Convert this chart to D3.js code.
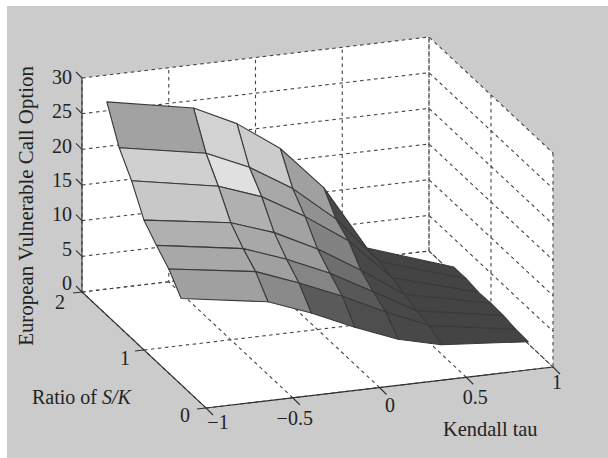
<!DOCTYPE html>
<html>
<head>
<meta charset="utf-8">
<script src="https://cdn.jsdelivr.net/npm/d3@7"></script>
<style>
  html, body { margin: 0; padding: 0; background: #fff; }
  text { font-family: "Liberation Serif", serif; fill: #222; }
</style>
</head>
<body>
<div class="canvas"></div>
<script>
const xGrid = [-1, -0.5, -0.25, 0, 0.25, 0.5, 1]
const yGrid = [0.4, 0.6, 0.8, 1, 1.2, 1.4, 1.6]
const xTicks = [-1, -0.5, 0, 0.5, 1]
const yTicks = [0, 1, 2]
const zTicks = [0, 5, 10, 15, 20, 25, 30]

// option value, one row per y in yGrid, one value per x in xGrid
const option04 = [12.1, 10.2, 7.9, 5.2, 2.8, 1.3, 0.3]
const option06 = [14.6, 12.8, 10.5, 7.9, 5, 2.4, 0.4]
const option08 = [16.3, 14.4, 12.2, 9.5, 6.2, 2.8, 0.7]
const option10 = [18.2, 16.4, 14.3, 11.3, 7.6, 3.5, 0.8]
const option12 = [22.1, 19.9, 17.7, 14.2, 10.1, 4.2, 0.7]
const option14 = [25.1, 22.9, 20.2, 16.5, 11.5, 4.8, 1]
const option16 = [29.9, 27.6, 24.7, 20.5, 14.3, 5.1, 1]
const zRows = [option04, option06, option08, option10, option12, option14, option16]

// gray level of each facet, front row first
const shade0 = [160, 138, 90, 78, 72, 68]
const shade1 = [168, 160, 133, 88, 72, 68]
const shade2 = [176, 168, 156, 110, 72, 68]
const shade3 = [200, 176, 162, 130, 72, 68]
const shade4 = [208, 224, 168, 145, 72, 68]
const shade5 = [162, 210, 204, 160, 72, 68]
const shades = [shade0, shade1, shade2, shade3, shade4, shade5]

const dims = {width: 608, height: 458}

const svg = d3.select('.canvas')
    .append('svg')
    .attr('width', dims.width)
    .attr('height', dims.height)
    .style('display', 'block')

svg.append('rect')
    .attr('x', 7).attr('y', 6)
    .attr('width', dims.width - 7).attr('height', dims.height - 6)
    .attr('fill', '#cbcbcb')

const xScale = d3.scaleLinear().domain([-1, 1]).range([0, 1])
const yScale = d3.scaleLinear().domain([0, 2]).range([0, 1])
const zScale = d3.scaleLinear().domain([0, 30]).range([0, 1])

// oblique view of the box
const project = (x, y, z) => {
    const u = xScale(x), v = yScale(y), w = zScale(z)
    return [
        206 + 347 * u - 124 * v,
        408 - 41 * u - 116 * v - 214 * w
    ]
}

const line = d3.line()
const closed = d3.line().curve(d3.curveLinearClosed)

// white walls and floor
svg.append('path')
    .attr('d', closed([
        project(-1, 2, 30), project(1, 2, 30), project(1, 0, 30),
        project(1, 0, 0), project(-1, 0, 0), project(-1, 2, 0)
    ]))
    .attr('fill', '#fff')

const grid = svg.append('g')
    .attr('fill', 'none')
    .attr('stroke', '#444')
    .attr('stroke-width', 1.1)
    .attr('stroke-dasharray', '3.5,3.5')

xTicks.forEach(x => {
    grid.append('path').attr('d', line([project(x, 0, 0), project(x, 2, 0), project(x, 2, 30)]))
})
yTicks.forEach(y => {
    grid.append('path').attr('d', line([project(-1, y, 0), project(1, y, 0), project(1, y, 30)]))
})
zTicks.forEach(z => {
    grid.append('path').attr('d', line([project(-1, 2, z), project(1, 2, z), project(1, 0, z)]))
})

// facets, far ones first
const facets = []
d3.range(yGrid.length - 1).forEach(j => {
    d3.range(xGrid.length - 1).forEach(i => {
        facets.push({
            i, j,
            gray: shades[j][i],
            points: [
                project(xGrid[i], yGrid[j], zRows[j][i]),
                project(xGrid[i + 1], yGrid[j], zRows[j][i + 1]),
                project(xGrid[i + 1], yGrid[j + 1], zRows[j + 1][i + 1]),
                project(xGrid[i], yGrid[j + 1], zRows[j + 1][i])
            ]
        })
    })
})
facets.sort((a, b) => (b.j - a.j) || (b.i - a.i))

svg.append('g')
    .selectAll('path')
    .data(facets)
    .enter()
    .append('path')
    .attr('d', d => closed(d.points))
    .attr('fill', d => d3.rgb(d.gray, d.gray, d.gray))
    .attr('stroke', '#3a3a3a')
    .attr('stroke-width', 1.1)
    .attr('stroke-linejoin', 'round')

// solid axes
const axes = svg.append('g')
    .attr('fill', 'none')
    .attr('stroke', '#333')
    .attr('stroke-width', 1.1)

axes.append('path').attr('d', line([project(-1, 2, 30), project(-1, 2, 0), project(-1, 0, 0), project(1, 0, 0)]))

zTicks.forEach(z => {
    const p = project(-1, 2, z)
    axes.append('path').attr('d', line([p, [p[0] - 6, p[1] - 6]]))
})
yTicks.forEach(y => {
    const p = project(-1, y, 0)
    axes.append('path').attr('d', line([p, [p[0] - 9, p[1] + 1]]))
})
xTicks.forEach(x => {
    const p = project(x, 0, 0)
    axes.append('path').attr('d', line([p, [p[0] + 7, p[1] + 7]]))
})

// tick labels
const tickLabel = (txt, p, dx, dy, anchor) => svg.append('text')
    .attr('x', p[0] + dx)
    .attr('y', p[1] + dy)
    .attr('text-anchor', anchor)
    .attr('font-size', 20)
    .text(txt)

zTicks.forEach(z => {
    tickLabel(z, project(-1, 2, z), -10, -2 + z * 8 / 30, 'end')
})
const yLabelShift = {0: [-21, 14], 1: [-19, 15], 2: [-22, 17]}
yTicks.forEach(y => {
    tickLabel(y, project(-1, y, 0), yLabelShift[y][0], yLabelShift[y][1], 'middle')
})
const xLabelShift = {'-1': [12, 21], '-0.5': [2, 27], '0': [10.5, 24], '0.5': [9, 27], '1': [4, 22]}
xTicks.forEach(x => {
    const s = xLabelShift[x]
    tickLabel(String(x).replace('-', '\u2212'), project(x, 0, 0), s[0], s[1], 'middle')
})

// axis titles
svg.append('text')
    .attr('transform', 'translate(33, 206) rotate(-90)')
    .attr('text-anchor', 'middle')
    .attr('font-size', 20.9)
    .text('European Vulnerable Call Option')

const yTitle = svg.append('text')
    .attr('x', 32).attr('y', 404)
    .attr('font-size', 20)
yTitle.append('tspan').text('Ratio of ')
yTitle.append('tspan').attr('font-style', 'italic').text('S/K')

svg.append('text')
    .attr('x', 443).attr('y', 436)
    .attr('font-size', 20.4)
    .text('Kendall tau')
</script>
</body>
</html>
